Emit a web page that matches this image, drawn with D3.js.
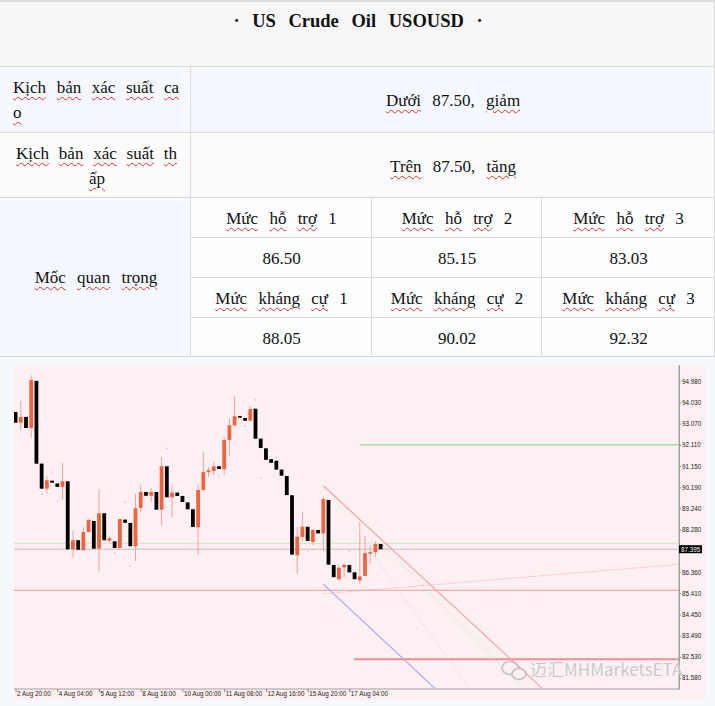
<!DOCTYPE html>
<html><head><meta charset="utf-8">
<script src="https://cdn.jsdelivr.net/npm/d3@7"></script>
<style>
body{margin:0;width:715px;height:706px;overflow:hidden;background:#f5f9fe;position:relative;font-family:"Liberation Serif","Times New Roman",serif;}
.cell{position:absolute;box-sizing:border-box;border-right:1px solid #dadada;border-bottom:1px solid #dadada;}
.line{position:absolute;white-space:nowrap;font-size:17px;color:#111;line-height:20px;word-spacing:7px;}
.w{text-decoration:underline wavy #e0302a;text-decoration-thickness:1px;text-underline-offset:3px;}
svg{position:absolute;left:0;top:0;}
</style></head><body>
<div id="tbl"></div>
<svg id="chart" width="715" height="706"></svg>
<script>
// ---------- table data ----------
const title = "· US Crude Oil USOUSD ·";
const scenarioLabels = [["Kịch bản xác suất ca", "o"], ["Kịch bản xác suất th", "ấp"]];
const scenarioTexts = ["Dưới 87.50, giảm", "Trên 87.50, tăng"];
const keyLabel = "Mốc quan trọng";
const supportLabels = ["Mức hỗ trợ 1", "Mức hỗ trợ 2", "Mức hỗ trợ 3"];
const supportValues = ["86.50", "85.15", "83.03"];
const resistanceLabels = ["Mức kháng cự 1", "Mức kháng cự 2", "Mức kháng cự 3"];
const resistanceValues = ["88.05", "90.02", "92.32"];

// ---------- chart data (4H candles, index 0 = 2 Aug 20:00) ----------
const candleOpen  = [93.59,93.11,93.37,92.87,95.00,91.26,90.13,90.49,90.36,90.21,90.46,87.39,87.80,87.35,88.17,88.67,87.42,89.02,87.78,87.75,87.45,88.73,88.58,87.53,89.26,89.98,89.81,89.98,89.18,91.14,89.74,89.95,89.80,89.51,89.20,88.39,90.07,90.87,90.93,91.14,91.01,92.33,92.99,93.41,93.32,93.20,93.74,92.39,91.95,91.46,91.39,90.99,90.70,89.83,87.12,87.95,88.41,87.72,88.26,88.11,89.62,86.68,86.04,86.58,86.68,86.35,85.99,86.19,87.22,87.26,87.63];
const candleHigh  = [93.59,94.09,93.37,95.25,95.00,91.26,90.70,90.49,90.36,91.30,90.46,88.23,87.80,88.39,88.77,88.67,90.10,89.02,87.99,87.75,88.76,88.73,88.58,89.89,90.31,89.98,90.15,89.98,91.56,91.14,90.31,89.95,89.80,89.51,89.20,90.31,91.79,91.11,91.34,91.14,92.46,93.29,94.32,93.41,93.32,93.86,93.74,92.39,91.95,91.46,91.39,90.99,90.70,89.83,88.40,89.08,88.41,88.32,88.26,89.77,89.62,86.68,86.71,86.76,86.68,86.35,88.62,88.00,87.57,87.75,87.63];
const candleLow   = [93.11,92.77,92.87,92.42,91.26,90.13,89.93,90.40,90.21,89.63,87.39,87.00,87.37,87.35,88.17,87.42,86.40,87.80,87.69,87.45,87.45,88.59,87.53,86.86,89.05,89.81,89.53,89.18,88.48,89.74,88.82,89.80,89.53,89.20,88.40,87.15,90.01,90.66,90.74,91.02,90.74,91.61,92.95,93.34,93.20,93.20,92.39,91.97,91.43,91.30,90.99,90.72,89.84,87.15,86.29,87.75,87.77,87.57,88.11,87.30,86.70,86.13,85.97,86.13,86.35,86.04,85.83,86.19,86.74,87.05,87.395];
const candleClose = [93.11,93.37,92.87,95.04,91.26,90.13,90.51,90.40,90.21,90.46,87.39,87.80,87.37,88.17,88.72,87.42,89.02,87.80,87.90,87.45,88.76,88.59,87.53,89.24,89.98,89.81,89.98,89.18,91.14,89.74,89.95,89.80,89.53,89.20,88.40,90.07,90.88,90.96,91.14,91.02,92.33,92.99,93.40,93.34,93.20,93.72,92.39,91.97,91.43,91.30,90.99,90.72,89.84,87.15,87.96,88.41,87.77,88.26,88.11,89.66,86.70,86.13,86.56,86.69,86.35,86.04,86.16,87.22,87.26,87.63,87.395];
const fractalIdx = [5,7,8,19,21,22,29,39,44,46,47,50,56,64];
const fractalVal = [89.88,90.88,89.56,87.23,89.53,86.62,91.95,90.69,92.95,94.14,90.61,91.53,87.30,87.30];
const xTickIdx = [0,8,16,24,32,40,48,56,64];
const xTickLabels = ["2 Aug 20:00","4 Aug 04:00","5 Aug 12:00","8 Aug 16:00","10 Aug 00:00","11 Aug 08:00","12 Aug 16:00","15 Aug 20:00","17 Aug 04:00"];
const yTickValues = [94.98,94.03,93.07,92.11,91.15,90.19,89.24,88.28,86.36,85.41,84.45,83.49,82.53,81.58];
const lastPrice = 87.395;
// horizontal levels: value and starting candle index
const levelValues = [92.11, 87.66, 87.395, 85.54, 82.42];
const levelStart  = [66.0, -0.3, -0.3, -0.3, 64.9];
// trend lines: [startIdx, startVal, endIdx, endVal]
const trendSalmon  = [59.0, 90.26, 100.9, 81.13];
const trendLavender = [59.0, 85.82, 80.4, 81.11];
const trendRising  = [59.0, 85.38, 127.2, 86.71];
const trendGreenDot = [70.4, 87.59, 97.3, 81.13];
const trendGrayDot = [65.0, 88.30, 87.0, 81.13];
const watermark = "迈汇MHMarketsETA";

// ---------- table rendering ----------
const tbl = d3.select("#tbl");
const hasLetter = s => /[A-Za-zÀ-ỹ]/.test(s);
function addCell(x0, x1, y0, y1, bg){
  tbl.append("div").attr("class","cell")
    .style("left", x0+"px").style("top", y0+"px")
    .style("width", (x1-x0)+"px").style("height", (y1-y0)+"px")
    .style("background", bg);
}
function addLine(text, cx, cy, opts={}){
  const d = tbl.append("div").attr("class","line");
  if (opts.width){
    d.style("left", opts.left+"px").style("width", opts.width+"px")
     .style("text-align", opts.align || "justify").style("text-align-last", opts.align || "justify")
     .style("white-space","normal").style("word-spacing","0px");
  } else {
    d.style("left", (cx-300)+"px").style("width","600px").style("text-align","center");
  }
  d.style("top", (cy-10)+"px");
  if (opts.bold){ d.style("font-weight","bold").style("font-size","18.5px").style("word-spacing","8px"); }
  const words = text.split(" ");
  words.forEach((w,i)=>{
    d.append("span").attr("class", (!opts.nounder && hasLetter(w)) ? "w" : null).text(w);
    if (i < words.length-1) d.append("span").text(" ");
  });
}
// top border
tbl.append("div").style("position","absolute").style("left","0px").style("top","0px")
  .style("width","715px").style("height","2px").style("background","#dcdcdc");
addCell(0,715,2,67,"#f7f7f7");
addLine(title, 358, 21, {bold:true, nounder:true});
const rowY = [67,133,198];
const rowBg = ["#f5f9ff","#fcfcfd"];
const lineLeft = [13, 16], lineWidth = [166, 161];
scenarioLabels.forEach((lines,r)=>{
  addCell(0,191,rowY[r],rowY[r+1],rowBg[r]);
  addCell(191,715,rowY[r],rowY[r+1],rowBg[r]);
  addLine(lines[0], 0, rowY[r]+21, {left:lineLeft[r], width:lineWidth[r]});
  if (r===0) addLine(lines[1], 0, rowY[r]+46, {left:lineLeft[r], width:lineWidth[r], align:"left"});
  else addLine(lines[1], 97, rowY[r]+46);
  addLine(scenarioTexts[r], 453, rowY[r]+34);
});
addCell(0,191,198,357,"#f5f9ff");
addLine(keyLabel, 96, 278);
const colX = [191,372,542,715];
const subY = [198,238,278,318,357];
const subRows = [supportLabels, supportValues, resistanceLabels, resistanceValues];
subRows.forEach((row,r)=>{
  row.forEach((txt,c)=>{
    addCell(colX[c], colX[c+1], subY[r], subY[r+1], "#fcfdff");
    addLine(txt, (colX[c]+colX[c+1])/2, subY[r]+21);
  });
});

// ---------- chart ----------
const svg = d3.select("#chart");
const plot = {l:14, r:679, t:365, b:689};
svg.append("rect").attr("x",14).attr("y",365).attr("width",691).attr("height",335).attr("fill","#fdf0f3");
const x = d3.scaleLinear().domain([-0.3, 127.2]).range([plot.l, plot.r]);
const y = d3.scaleLinear().domain([81.08, 95.716]).range([plot.b, plot.t]);
svg.append("clipPath").attr("id","clip").append("rect")
  .attr("x",plot.l).attr("y",plot.t).attr("width",plot.r-plot.l).attr("height",plot.b-plot.t);
const g = svg.append("g").attr("clip-path","url(#clip)");

// horizontal levels
const levelColor = ["#9ad98f","#d2e2c4","#c9b9bc","#f09a9a","#ef8f8f"];
const levelWidth = [1.3, 1, 1, 1.2, 2];
levelValues.forEach((v,i)=>{
  g.append("line").attr("x1", x(levelStart[i])).attr("x2", x(127.2))
    .attr("y1", y(v)).attr("y2", y(v))
    .attr("stroke", levelColor[i]).attr("stroke-width", levelWidth[i]);
});
function trend(t, color, w, dash){
  g.append("line").attr("x1",x(t[0])).attr("y1",y(t[1])).attr("x2",x(t[2])).attr("y2",y(t[3]))
   .attr("stroke",color).attr("stroke-width",w).attr("stroke-dasharray",dash||null);
}
trend(trendGrayDot, "#cfcfcf", 1, "1,2");
trend(trendGreenDot, "#b9dcae", 1, "1,2");
trend(trendSalmon, "#f3a3a0", 1.2);
trend(trendLavender, "#a9a6f2", 1.2);
trend(trendRising, "#f3a3a3", 1, "1,1.5");

// candles
const idx = d3.range(candleOpen.length);
const bw = 3.8;
const bull = i => candleClose[i] >= candleOpen[i];
g.selectAll("line.wick").data(idx).join("line").attr("class","wick")
  .attr("x1", i=>x(i)).attr("x2", i=>x(i))
  .attr("y1", i=>y(candleHigh[i])).attr("y2", i=>y(candleLow[i]))
  .attr("stroke", i=> bull(i) ? "#f3a1a1" : "#444").attr("stroke-width",1);
g.selectAll("rect.body").data(idx).join("rect").attr("class","body")
  .attr("x", i=>x(i)-bw/2).attr("width", bw)
  .attr("y", i=>y(Math.max(candleOpen[i],candleClose[i])))
  .attr("height", i=>Math.max(1.5, Math.abs(y(candleOpen[i])-y(candleClose[i]))))
  .attr("fill", i=> bull(i) ? "#f0633f" : "#000");
g.selectAll("rect.frac").data(fractalIdx).join("rect").attr("class","frac")
  .attr("x",(d)=>x(d)-0.6).attr("y",(d,i)=>y(fractalVal[i])-0.6).attr("width",1.2).attr("height",1.2)
  .attr("fill","#b4aef0");

// axes
const yAxis = svg.append("g").attr("transform",`translate(${plot.r},0)`)
  .call(d3.axisRight(y).tickValues(yTickValues).tickFormat(d3.format(".3f")).tickSize(2).tickSizeOuter(0));
yAxis.select(".domain").attr("stroke","#a0a0a0");
yAxis.selectAll(".tick line").attr("stroke","#888");
yAxis.selectAll(".tick text").attr("x",3).attr("fill","#222")
  .style("font-family","'Liberation Sans',Arial,sans-serif").style("font-size","6.3px");
svg.append("line").attr("x1",plot.r).attr("x2",plot.r).attr("y1",plot.t).attr("y2",plot.b).attr("stroke","#a0a0a0");

const xAxis = svg.append("g").attr("transform",`translate(0,${plot.b})`)
  .call(d3.axisBottom(x).tickValues(xTickIdx).tickFormat((d,i)=>xTickLabels[i]).tickSize(3).tickSizeOuter(0));
xAxis.select(".domain").attr("stroke","#a0a0a0").attr("d",`M${plot.l},0H${plot.r}`);
xAxis.selectAll(".tick line").attr("stroke","#888");
xAxis.selectAll(".tick text").attr("text-anchor","start").attr("x",1).attr("y",3).attr("fill","#222")
  .style("font-family","'Liberation Sans',Arial,sans-serif").style("font-size","6.3px");

// last price box
svg.append("rect").attr("x",plot.r).attr("y",y(lastPrice)-4).attr("width",23).attr("height",8).attr("fill","#000");
svg.append("text").attr("x",plot.r+2).attr("y",y(lastPrice)+2.3).text(d3.format(".3f")(lastPrice))
  .attr("fill","#fff").style("font-family","'Liberation Sans',Arial,sans-serif").style("font-size","6.3px");

// watermark
const wm = svg.append("g").attr("opacity",0.9);
wm.append("ellipse").attr("cx",510).attr("cy",668).attr("rx",8).attr("ry",6.5).attr("fill","none").attr("stroke","#bdbdbd").attr("stroke-width",1.6);
wm.append("ellipse").attr("cx",519).attr("cy",674).attr("rx",7).attr("ry",5.5).attr("fill","#fdf0f3").attr("stroke","#bdbdbd").attr("stroke-width",1.6);
wm.append("text").attr("x",530).attr("y",676).text(watermark)
  .attr("fill","#c4c4c4").attr("stroke","#fff").attr("stroke-width",0.6).attr("paint-order","stroke")
  .style("font-family","'Noto Sans CJK SC','Noto Sans',sans-serif").style("font-size","17px");
</script>
</body></html>
